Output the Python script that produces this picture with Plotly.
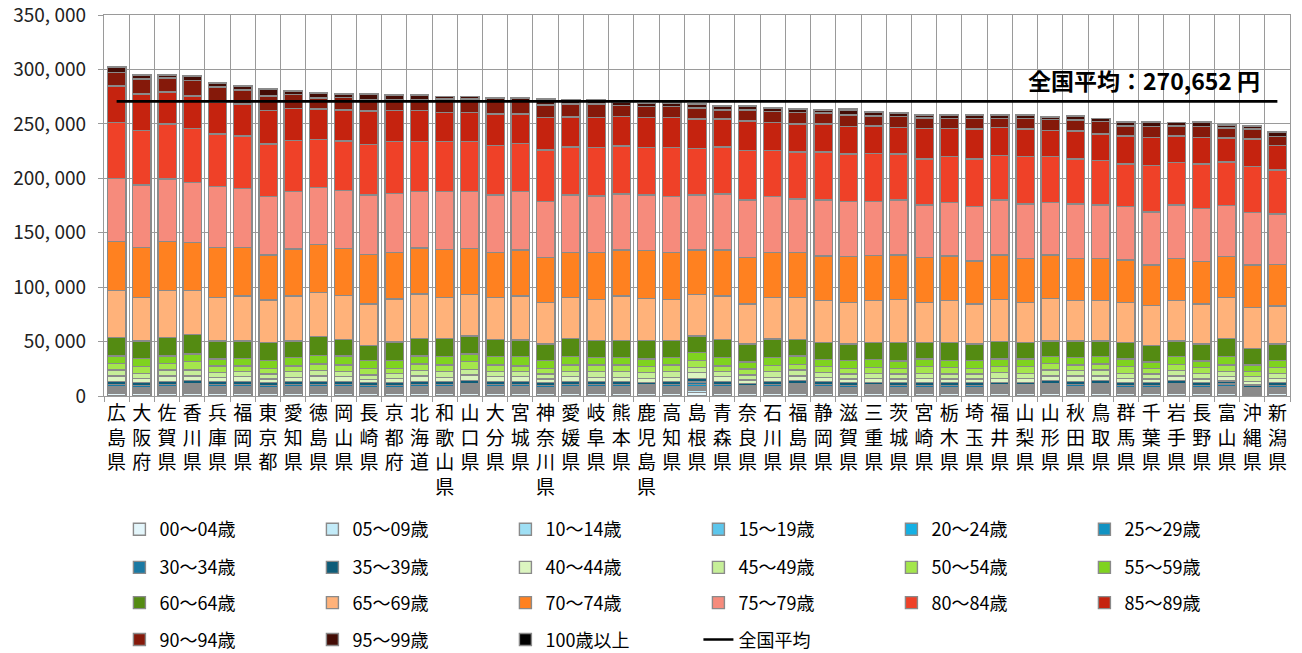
import plotly.graph_objects as go

# ---------------- data (values in thousand yen) ----------------
prefectures = ["広島県", "大阪府", "佐賀県", "香川県", "兵庫県", "福岡県", "東京都", "愛知県", "徳島県", "岡山県",
               "長崎県", "京都府", "北海道", "和歌山県", "山口県", "大分県", "宮城県", "神奈川県", "愛媛県", "岐阜県",
               "熊本県", "鹿児島県", "高知県", "島根県", "青森県", "奈良県", "石川県", "福島県", "静岡県", "滋賀県",
               "三重県", "茨城県", "宮崎県", "栃木県", "埼玉県", "福井県", "山梨県", "山形県", "秋田県", "鳥取県",
               "群馬県", "千葉県", "岩手県", "長野県", "富山県", "沖縄県", "新潟県"]

age_00_04 = [2.6, 2.4, 2.6, 2.8, 2.6, 2.6, 2.4, 2.6, 2.6, 2.6, 2.4, 2.4, 2.6, 2.6, 2.8, 2.6, 2.6, 2.4, 2.6, 2.6, 2.6, 2.5, 2.6, 3.2, 2.6, 2.3, 2.6, 2.8, 2.6, 2.4, 2.5, 2.4, 2.4, 2.4, 2.4, 2.5, 2.5, 2.8, 2.6, 2.8, 2.4, 2.4, 2.8, 2.4, 2.8, 2.0, 2.4]
age_05_09 = [1.3, 1.2, 1.3, 1.4, 1.3, 1.3, 1.2, 1.3, 1.3, 1.3, 1.2, 1.2, 1.3, 1.3, 1.4, 1.3, 1.3, 1.2, 1.3, 1.3, 1.3, 1.3, 1.3, 1.6, 1.3, 1.2, 1.3, 1.4, 1.3, 1.2, 1.3, 1.2, 1.2, 1.2, 1.2, 1.3, 1.3, 1.4, 1.3, 1.4, 1.2, 1.2, 1.4, 1.2, 1.4, 1.0, 1.2]
age_10_14 = [1.1, 1.0, 1.1, 1.1, 1.1, 1.1, 1.0, 1.1, 1.1, 1.1, 1.0, 1.0, 1.1, 1.1, 1.1, 1.1, 1.1, 1.0, 1.1, 1.1, 1.1, 1.0, 1.1, 1.3, 1.1, 0.9, 1.1, 1.1, 1.1, 1.0, 1.0, 1.0, 1.0, 1.0, 1.0, 1.0, 1.0, 1.1, 1.1, 1.1, 1.0, 1.0, 1.1, 1.0, 1.1, 0.8, 1.0]
age_15_19 = [1.1, 1.0, 1.1, 1.1, 1.1, 1.1, 1.0, 1.1, 1.1, 1.1, 1.0, 1.0, 1.1, 1.1, 1.1, 1.1, 1.1, 1.0, 1.1, 1.1, 1.1, 1.0, 1.1, 1.3, 1.1, 0.9, 1.1, 1.1, 1.1, 1.0, 1.0, 1.0, 1.0, 1.0, 1.0, 1.0, 1.0, 1.1, 1.1, 1.1, 1.0, 1.0, 1.1, 1.0, 1.1, 0.8, 1.0]
age_20_24 = [1.1, 1.0, 1.1, 1.1, 1.1, 1.1, 1.0, 1.1, 1.1, 1.1, 1.0, 1.0, 1.1, 1.1, 1.1, 1.1, 1.1, 1.0, 1.1, 1.1, 1.1, 1.0, 1.1, 1.3, 1.1, 0.9, 1.1, 1.1, 1.1, 1.0, 1.0, 1.0, 1.0, 1.0, 1.0, 1.0, 1.0, 1.1, 1.1, 1.1, 1.0, 1.0, 1.1, 1.0, 1.1, 0.8, 1.0]
age_25_29 = [1.4, 1.4, 1.4, 1.6, 1.4, 1.4, 1.4, 1.4, 1.4, 1.4, 1.4, 1.4, 1.4, 1.4, 1.6, 1.4, 1.4, 1.4, 1.4, 1.4, 1.4, 1.4, 1.4, 1.8, 1.4, 1.3, 1.4, 1.6, 1.4, 1.4, 1.4, 1.4, 1.4, 1.4, 1.4, 1.4, 1.4, 1.6, 1.4, 1.6, 1.4, 1.4, 1.6, 1.4, 1.5, 1.1, 1.4]
age_30_34 = [2.0, 1.8, 2.0, 2.1, 2.0, 2.0, 1.8, 2.0, 2.0, 2.0, 1.8, 1.8, 2.0, 2.0, 2.1, 2.0, 2.0, 1.8, 2.0, 2.0, 2.0, 1.9, 2.0, 2.4, 2.0, 1.7, 2.0, 2.1, 2.0, 1.8, 1.9, 1.8, 1.8, 1.8, 1.8, 1.9, 1.9, 2.1, 2.0, 2.1, 1.8, 1.8, 2.1, 1.8, 2.1, 1.5, 1.8]
age_35_39 = [2.6, 2.5, 2.6, 2.9, 2.6, 2.6, 2.5, 2.6, 2.6, 2.6, 2.5, 2.5, 2.6, 2.6, 2.9, 2.6, 2.6, 2.5, 2.6, 2.6, 2.6, 2.5, 2.6, 3.3, 2.6, 2.4, 2.6, 2.9, 2.6, 2.5, 2.5, 2.5, 2.5, 2.5, 2.5, 2.5, 2.5, 2.9, 2.6, 2.9, 2.5, 2.5, 2.9, 2.5, 2.7, 2.1, 2.5]
age_40_44 = [5.2, 4.0, 5.2, 4.3, 4.0, 4.6, 3.4, 4.0, 5.2, 4.6, 3.1, 4.0, 5.2, 4.0, 5.2, 4.6, 4.6, 3.4, 4.6, 4.0, 4.0, 3.7, 4.0, 5.2, 4.6, 3.1, 4.0, 4.3, 4.0, 3.4, 3.7, 3.4, 4.0, 3.4, 3.4, 3.7, 3.7, 4.3, 5.2, 4.3, 4.0, 3.4, 4.3, 3.4, 4.0, 3.1, 4.0]
age_45_49 = [5.5, 4.6, 5.5, 5.5, 4.3, 4.6, 4.6, 5.2, 4.9, 4.6, 4.0, 4.6, 4.9, 5.2, 5.2, 4.6, 4.6, 4.6, 4.6, 5.2, 5.2, 5.2, 5.2, 4.9, 4.6, 4.6, 5.2, 5.5, 4.3, 4.6, 4.6, 4.6, 4.6, 4.6, 4.6, 5.2, 4.6, 5.5, 4.9, 5.5, 4.6, 4.6, 4.9, 5.2, 4.6, 4.6, 4.6]
age_50_54 = [6.1, 6.1, 6.1, 7.7, 6.1, 5.2, 5.2, 5.2, 6.1, 6.1, 6.1, 4.6, 6.1, 6.1, 7.0, 6.1, 5.2, 5.2, 6.1, 6.1, 6.1, 5.5, 6.1, 6.1, 5.2, 5.5, 5.5, 5.2, 5.5, 5.2, 5.5, 5.2, 6.1, 6.1, 5.2, 5.5, 6.1, 6.1, 5.2, 5.5, 6.1, 5.2, 5.8, 5.5, 6.1, 4.6, 5.5]
age_55_59 = [6.7, 7.7, 6.7, 7.0, 6.4, 7.0, 7.0, 7.7, 7.7, 8.3, 7.0, 7.0, 7.4, 7.7, 7.0, 7.7, 8.6, 7.0, 7.7, 7.0, 7.0, 7.0, 7.0, 7.4, 8.0, 6.4, 7.7, 7.7, 6.7, 7.0, 7.4, 6.7, 7.0, 6.1, 7.0, 7.0, 7.0, 6.1, 6.7, 6.7, 7.0, 5.8, 7.0, 5.8, 7.7, 6.1, 6.1]
age_60_64 = [17.2, 15.9, 17.2, 18.1, 16.5, 15.9, 16.5, 15.3, 17.5, 15.3, 13.8, 17.2, 15.9, 16.5, 16.5, 15.9, 15.3, 15.3, 16.8, 15.3, 15.3, 16.8, 15.3, 15.3, 16.5, 16.5, 16.8, 15.3, 15.3, 15.3, 15.3, 17.2, 15.0, 16.5, 15.3, 15.9, 15.0, 14.4, 15.3, 14.4, 15.0, 15.0, 14.4, 15.6, 16.8, 15.3, 15.3]
age_65_69 = [42.9, 39.8, 42.9, 40.1, 39.8, 41.4, 39.2, 41.4, 40.7, 40.1, 38.3, 39.5, 41.1, 38.0, 38.3, 38.3, 40.4, 38.3, 37.7, 38.0, 41.1, 38.9, 38.0, 38.3, 39.8, 36.8, 38.0, 38.3, 38.6, 38.3, 38.6, 39.5, 37.1, 38.6, 36.8, 38.9, 37.1, 39.2, 37.1, 37.1, 37.1, 36.8, 37.1, 36.8, 37.4, 37.7, 34.9]
age_70_74 = [45.0, 46.0, 45.0, 44.1, 46.0, 44.4, 41.4, 42.9, 44.1, 43.5, 45.6, 42.6, 42.0, 44.1, 42.3, 41.4, 42.3, 41.4, 41.1, 42.9, 42.3, 43.8, 42.9, 40.7, 42.3, 42.6, 41.4, 41.4, 41.1, 42.0, 41.1, 40.7, 41.1, 41.1, 39.5, 40.7, 40.4, 39.8, 38.9, 38.9, 38.9, 37.4, 38.9, 38.9, 37.7, 38.9, 38.3]
age_75_79 = [58.2, 57.3, 57.6, 55.5, 56.1, 54.5, 53.6, 53.0, 52.4, 53.0, 54.5, 54.5, 52.1, 53.0, 52.1, 53.0, 53.6, 51.1, 53.0, 52.1, 51.5, 51.1, 51.5, 50.6, 51.5, 53.0, 51.5, 49.3, 51.5, 50.6, 49.9, 50.6, 48.4, 49.3, 49.9, 50.6, 49.9, 48.4, 49.9, 49.0, 49.0, 48.4, 49.0, 49.0, 46.9, 48.4, 46.3]
age_80_84 = [51.5, 50.2, 50.6, 49.6, 48.4, 48.1, 48.4, 46.9, 44.1, 45.6, 46.6, 47.5, 46.0, 46.0, 46.0, 45.3, 44.4, 47.5, 43.8, 44.7, 44.1, 43.8, 45.3, 42.9, 42.9, 45.3, 42.3, 42.9, 43.8, 43.5, 43.8, 42.0, 42.3, 42.0, 43.8, 40.7, 43.5, 42.0, 41.4, 40.7, 39.2, 42.6, 39.2, 40.7, 39.8, 42.0, 40.4]
age_85_89 = [33.4, 33.7, 29.1, 29.7, 29.1, 29.4, 30.6, 29.1, 27.6, 28.5, 30.6, 28.5, 28.5, 26.7, 26.7, 29.1, 27.0, 30.0, 27.6, 27.3, 27.0, 27.6, 27.6, 26.7, 25.7, 27.3, 25.7, 25.7, 25.7, 25.4, 25.7, 24.5, 27.6, 26.0, 27.3, 25.7, 25.4, 23.9, 25.7, 24.5, 25.7, 26.0, 24.2, 24.5, 22.1, 25.4, 22.4]
age_90_94 = [12.3, 13.5, 12.9, 14.1, 13.8, 12.9, 13.5, 12.9, 10.1, 11.3, 10.7, 9.8, 9.8, 12.3, 12.3, 11.3, 11.3, 11.3, 11.9, 12.3, 9.8, 9.8, 9.8, 10.1, 8.6, 10.1, 10.1, 10.7, 10.1, 10.7, 9.2, 10.1, 9.8, 9.2, 10.1, 8.6, 9.8, 10.4, 10.1, 11.3, 9.2, 10.1, 9.2, 9.8, 9.2, 8.9, 8.3]
age_95_99 = [4.8, 3.5, 2.7, 3.5, 3.5, 3.5, 5.7, 3.5, 4.1, 3.5, 4.9, 4.1, 4.3, 2.2, 2.2, 2.7, 2.7, 4.9, 3.8, 3.8, 3.0, 2.7, 2.7, 3.5, 3.5, 3.5, 2.7, 3.0, 2.7, 4.6, 3.5, 2.7, 2.7, 2.7, 2.7, 2.7, 2.7, 2.2, 3.3, 2.7, 3.5, 4.1, 3.0, 4.1, 2.7, 3.0, 3.5]
age_100_up = [0.7, 0.5, 0.4, 0.5, 0.5, 0.5, 0.7, 0.5, 0.5, 0.5, 0.6, 0.5, 0.6, 0.3, 0.3, 0.4, 0.4, 0.6, 0.5, 0.5, 0.4, 0.4, 0.4, 0.5, 0.5, 0.5, 0.4, 0.4, 0.4, 0.6, 0.5, 0.4, 0.4, 0.4, 0.4, 0.4, 0.4, 0.3, 0.4, 0.4, 0.5, 0.5, 0.4, 0.5, 0.4, 0.4, 0.5]

national_average = 270652
y_tick_values = [0, 50000, 100000, 150000, 200000, 250000, 300000, 350000]
y_tick_labels = ["0", "50, 000", "100, 000", "150, 000", "200, 000", "250, 000", "300, 000", "350, 000"]

series_names = ["00～04歳", "05～09歳", "10～14歳", "15～19歳", "20～24歳", "25～29歳",
                "30～34歳", "35～39歳", "40～44歳", "45～49歳", "50～54歳", "55～59歳",
                "60～64歳", "65～69歳", "70～74歳", "75～79歳", "80～84歳", "85～89歳",
                "90～94歳", "95～99歳", "100歳以上"]
series_values = [age_00_04, age_05_09, age_10_14, age_15_19, age_20_24, age_25_29,
                 age_30_34, age_35_39, age_40_44, age_45_49, age_50_54, age_55_59,
                 age_60_64, age_65_69, age_70_74, age_75_79, age_80_84, age_85_89,
                 age_90_94, age_95_99, age_100_up]
series_colors = ["#e4f6fb", "#c3ebf8", "#9fdff4", "#5cc6ec", "#14b0e4", "#1192c2",
                 "#1a79a3", "#0e5c78", "#dcf5c0", "#c6ef98", "#a4e64c", "#7fd31f",
                 "#548b12", "#ffb27a", "#ff8120", "#f68b7c", "#ef4128", "#c5230f",
                 "#85190a", "#430c05", "#000000"]

FONT = "Noto Sans CJK JP"
x_labels = ["<br>".join(p) for p in prefectures]

fig = go.Figure()
legend_of = ["legend"] * 6 + ["legend2"] * 6 + ["legend3"] * 6 + ["legend4"] * 3
for name, vals, col, lg in zip(series_names, series_values, series_colors, legend_of):
    fig.add_trace(go.Bar(
        x=x_labels, y=[v * 1000 for v in vals], name=name,
        marker=dict(color=col, line=dict(color="#8a8a8a", width=1.4)),
        legend=lg,
    ))

fig.add_trace(go.Scatter(
    x=x_labels, y=[national_average] * len(prefectures), name="全国平均",
    mode="lines", line=dict(color="black", width=2.6), legend="legend4",
))

fig.add_annotation(
    x=0.976, xref="paper", xanchor="right",
    y=290000, yref="y", yanchor="middle",
    text="<b>全国平均：270,652 円</b>", showarrow=False,
    font=dict(family=FONT, size=23, color="black"),
)

grid_col = "#9a9a9a"
leg_common = dict(orientation="h", xanchor="left", yanchor="top", x=0.013,
                  font=dict(family=FONT, size=18, color="black"),
                  entrywidth=148, entrywidthmode="pixels",
                  bgcolor="rgba(0,0,0,0)", traceorder="normal")

fig.update_layout(
    width=1302, height=653,
    margin=dict(l=104, r=12, t=15, b=257, autoexpand=False),
    barmode="stack", bargap=0.27,
    plot_bgcolor="white", paper_bgcolor="white",
    font=dict(family=FONT, color="black"),
    showlegend=True,
    legend=dict(y=-0.302, **leg_common),
    legend2=dict(y=-0.402, **leg_common),
    legend3=dict(y=-0.4945, **leg_common),
    legend4=dict(y=-0.5915, **leg_common),
    xaxis=dict(type="category", tickson="boundaries", showgrid=True, gridcolor=grid_col, gridwidth=1.3,
               showline=True, linecolor=grid_col, linewidth=1.3, mirror=True, ticks="outside", ticklen=5,
               tickcolor=grid_col, tickangle=0, tickfont=dict(family=FONT, size=19, color="black")),
    yaxis=dict(range=[0, 350000], tickmode="array", tickvals=y_tick_values, ticktext=y_tick_labels,
               showgrid=True, gridcolor=grid_col, gridwidth=1.3, showline=True, linecolor=grid_col,
               linewidth=1.3, mirror=True, ticks="outside", ticklen=5, tickcolor=grid_col, ticklabelstandoff=8,
               ticklabeloverflow="allow",
               tickfont=dict(family=FONT, size=19, color="#222222"), zeroline=False),
)

fig.write_html("out.html", config={"displayModeBar": False},
               post_script="document.body.style.margin='0';document.body.style.overflow='hidden';")
